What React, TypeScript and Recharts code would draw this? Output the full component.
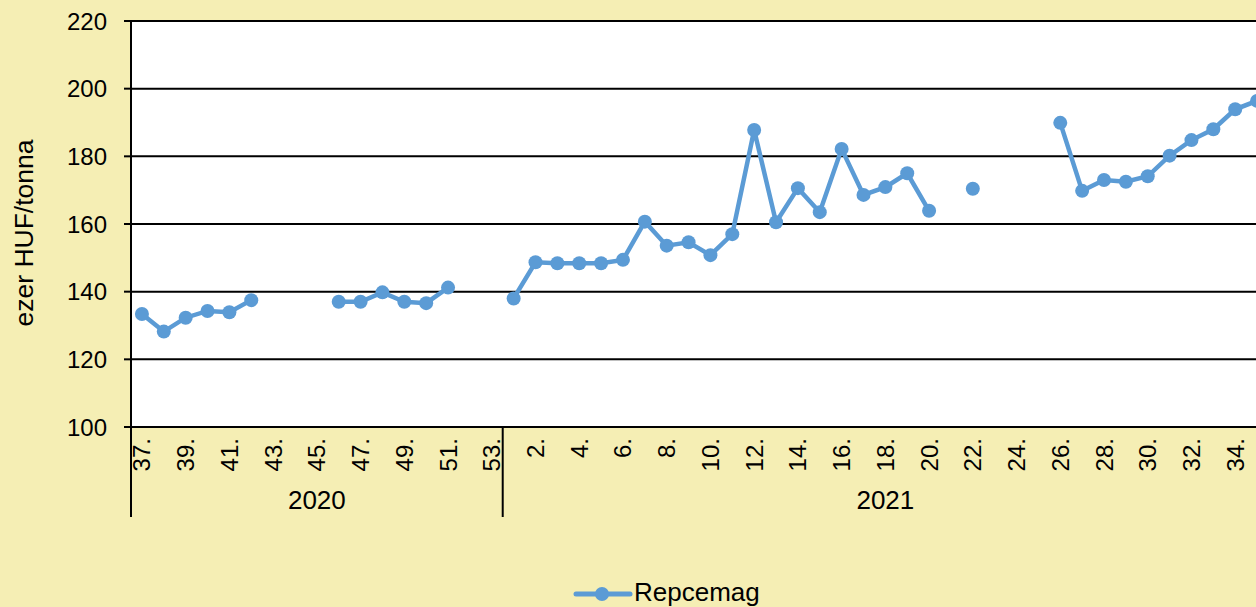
import { LineChart, Line, XAxis, YAxis, CartesianGrid, Legend } from "recharts";

// weekly rapeseed prices, thousand HUF / tonne
const weeks2020 = [37, 38, 39, 40, 41, 42, 43, 44, 45, 46, 47, 48, 49, 50, 51, 52, 53];
const prices2020 = [133.4, 128.2, 132.3, 134.3, 133.9, 137.5, null, null, null, 137.0, 137.0, 139.8, 137.0, 136.6, 141.2, null, null];

const weeks2021 = [
  1, 2, 3, 4, 5, 6, 7, 8, 9, 10, 11, 12, 13, 14, 15, 16, 17, 18, 19, 20,
  21, 22, 23, 24, 25, 26, 27, 28, 29, 30, 31, 32, 33, 34, 35,
];
const prices2021 = [
  138.0, 148.7, 148.4, 148.4, 148.4, 149.4, 160.7, 153.6, 154.6, 150.8,
  157.0, 187.8, 160.5, 170.6, 163.5, 182.2, 168.6, 170.9, 175.0, 163.9,
  null, 170.4, null, null, null, 189.9, 169.8, 173.0, 172.5, 174.1,
  180.2, 184.8, 188.0, 193.9, 196.4,
];

const yTicks = [100, 120, 140, 160, 180, 200, 220];
const seriesName = "Repcemag";
const axisTitle = "ezer HUF/tonna";

const data = [
  ...weeks2020.map((w, i) => ({ label: `${w}.`, year: "2020", price: prices2020[i] })),
  ...weeks2021.map((w, i) => ({ label: `${w}.`, year: "2021", price: prices2021[i] })),
];

const BG = "#F5EEB4";
const BLUE = "#5B9BD5";
const FONT = "'Liberation Sans', Arial, sans-serif";

const CHART_W = 1268;
const CHART_H = 607;
const MARGIN = { top: 21, right: 0, bottom: 0, left: 0 };
const Y_AXIS_W = 131;
const WEEK_AXIS_H = 52;
const YEAR_AXIS_H = 98;
const PLOT_W = CHART_W - MARGIN.left - MARGIN.right - Y_AXIS_W;
const STEP = PLOT_W / data.length;
// half a category on each side, so points sit in the middle of their slot
const X_PAD = { left: STEP / 2, right: STEP / 2 };

function WeekTick({ x, y, payload }: any) {
  return (
    <text
      x={x}
      y={y}
      transform={`rotate(-90 ${x} ${y})`}
      textAnchor="end"
      dominantBaseline="central"
      fontFamily={FONT}
      fontSize={24}
      fill="#000"
    >
      {payload.value}
    </text>
  );
}

function YearTick({ x, y, index }: any) {
  const cur = data[index];
  if (!cur) return null;
  const isFirst = index === 0 || data[index - 1].year !== cur.year;
  if (!isFirst) return <g />;
  let last = index;
  while (last + 1 < data.length && data[last + 1].year === cur.year) last++;
  const left = x - STEP / 2;
  const right = x + (last - index) * STEP + STEP / 2;
  const top = y - 21 - WEEK_AXIS_H;
  const bottom = y + 17;
  return (
    <g>
      <line x1={left} x2={left} y1={top} y2={bottom} stroke="#000" strokeWidth={2} />
      {last === data.length - 1 && (
        <line x1={right} x2={right} y1={top} y2={bottom} stroke="#000" strokeWidth={2} />
      )}
      <text
        x={(left + right) / 2}
        y={y}
        textAnchor="middle"
        dominantBaseline="central"
        fontFamily={FONT}
        fontSize={26}
        fill="#000"
      >
        {cur.year}
      </text>
    </g>
  );
}

function YTitle({ viewBox }: any) {
  const cy = viewBox ? viewBox.y + viewBox.height / 2 + 9 : 233;
  const cx = 24;
  return (
    <text
      x={cx}
      y={cy}
      transform={`rotate(-90 ${cx} ${cy})`}
      textAnchor="middle"
      dominantBaseline="central"
      fontFamily={FONT}
      fontSize={26.5}
      fill="#000"
    >
      {axisTitle}
    </text>
  );
}

function LegendBox() {
  return (
    <div style={{ display: "flex", alignItems: "center", height: 30, fontFamily: FONT, fontSize: 26, color: "#000" }}>
      <svg width={60} height={30} style={{ display: "block" }}>
        <line x1={3} x2={57} y1={17} y2={17} stroke={BLUE} strokeWidth={5} strokeLinecap="round" />
        <circle cx={29} cy={17} r={7} fill={BLUE} />
      </svg>
      <span style={{ marginLeft: 1, lineHeight: "30px" }}>{seriesName}</span>
    </div>
  );
}

export default function App() {
  return (
    <div
      style={{
        position: "fixed",
        top: 0,
        left: 0,
        width: 1256,
        height: 607,
        overflow: "hidden",
        background: BG,
      }}
    >
      <LineChart width={CHART_W} height={CHART_H} data={data} margin={MARGIN}>
        <CartesianGrid horizontal vertical={false} stroke="#000" strokeWidth={2} fill="#fff" fillOpacity={1} />
        <XAxis
          dataKey="label"
          interval={1}
          padding={X_PAD}
          height={WEEK_AXIS_H}
          axisLine={{ stroke: "#000", strokeWidth: 2 }}
          tickLine={false}
          tickSize={0}
          tickMargin={11}
          tick={<WeekTick />}
        />
        <XAxis
          xAxisId="year"
          dataKey="label"
          interval={0}
          padding={X_PAD}
          height={YEAR_AXIS_H}
          axisLine={false}
          tickLine={false}
          tickSize={0}
          tickMargin={21}
          tick={<YearTick />}
        />
        <YAxis
          width={Y_AXIS_W}
          domain={[100, 220]}
          ticks={yTicks}
          interval={0}
          axisLine={{ stroke: "#000", strokeWidth: 2 }}
          tickLine={{ stroke: "#000", strokeWidth: 2 }}
          tickSize={7}
          tickMargin={17}
          tick={{ fill: "#000", fontSize: 24, fontFamily: FONT }}
          label={{ content: <YTitle /> }}
        />
        <Legend content={<LegendBox />} verticalAlign="bottom" wrapperStyle={{ left: 573, width: 260, height: 30 }} />
        <Line
          type="linear"
          dataKey="price"
          name={seriesName}
          stroke={BLUE}
          strokeWidth={4.5}
          dot={{ r: 7, fill: BLUE, stroke: "none" }}
          activeDot={false}
          connectNulls={false}
          isAnimationActive={false}
        />
      </LineChart>
    </div>
  );
}
